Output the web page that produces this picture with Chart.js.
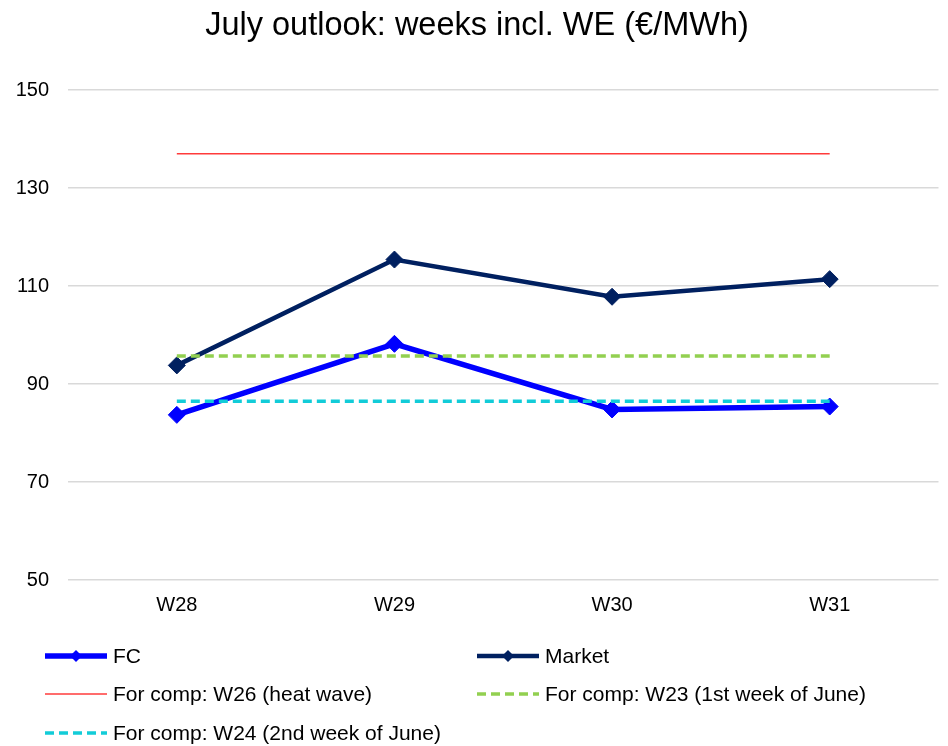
<!DOCTYPE html>
<html>
<head>
<meta charset="utf-8">
<script src="https://cdn.jsdelivr.net/npm/chart.js@4/dist/chart.umd.min.js"></script>
<style>
  html, body { margin: 0; padding: 0; background: #fff; }
  #wrap { width: 948px; height: 746px; position: relative; }
</style>
</head>
<body>
<div id="wrap"><canvas id="c" width="948" height="746"></canvas></div>
<script>
const titleText = 'July outlook: weeks incl. WE (€/MWh)';
const categories = ['W28', 'W29', 'W30', 'W31'];
const fcValues = [83.7, 98.2, 84.8, 85.4];
const marketValues = [93.8, 115.4, 107.8, 111.4];
const w26Values = [137, 137, 137, 137];
const w23Values = [95.7, 95.7, 95.7, 95.7];
const w24Values = [86.5, 86.5, 86.5, 86.5];
const seriesNames = ['FC', 'Market', 'For comp: W26 (heat wave)', 'For comp: W23 (1st week of June)', 'For comp: W24 (2nd week of June)'];
const yMin = 50, yMax = 150, yStep = 20;

const FONT = "'Liberation Sans', Arial, sans-serif";

const datasets = [
  { label: seriesNames[0], data: fcValues, borderColor: '#0000FF', backgroundColor: '#0000FF', borderWidth: 5.5,
    pointStyle: 'rectRot', pointRadius: 8.5, pointBorderWidth: 1, pointBackgroundColor: '#0000FF', pointBorderColor: '#0000FF', order: 5, tension: 0 },
  { label: seriesNames[1], data: marketValues, borderColor: '#002060', backgroundColor: '#002060', borderWidth: 4.5,
    pointStyle: 'rectRot', pointRadius: 8.5, pointBorderWidth: 1, pointBackgroundColor: '#002060', pointBorderColor: '#002060', order: 4, tension: 0 },
  { label: seriesNames[2], data: w26Values, borderColor: '#FF3B3B', backgroundColor: '#FF3B3B', borderWidth: 1.5,
    pointRadius: 0, order: 3 },
  { label: seriesNames[3], data: w23Values, borderColor: '#92D050', backgroundColor: '#92D050', borderWidth: 3.5,
    borderDash: [9, 5], pointRadius: 0, order: 2 },
  { label: seriesNames[4], data: w24Values, borderColor: '#12CCD8', backgroundColor: '#12CCD8', borderWidth: 3.5,
    borderDash: [9, 5], pointRadius: 0, order: 1 }
];

// legend layout: [column x of line start, row y]
const legendSlots = [[45, 656], [477, 656], [45, 694], [477, 694], [45, 733]];

const customLegend = {
  id: 'customLegend',
  afterDraw(chart) {
    const ctx = chart.ctx;
    chart.data.datasets.forEach((ds, i) => {
      const [x0, y] = legendSlots[i];
      const x1 = x0 + 62;
      ctx.save();
      ctx.strokeStyle = ds.borderColor;
      ctx.lineWidth = ds.borderWidth;
      ctx.setLineDash(ds.borderDash || []);
      ctx.lineCap = 'butt';
      ctx.beginPath();
      ctx.moveTo(x0, y);
      ctx.lineTo(x1, y);
      ctx.stroke();
      if (ds.pointRadius) {
        const r = 6, cx = (x0 + x1) / 2;
        ctx.setLineDash([]);
        ctx.fillStyle = ds.pointBackgroundColor;
        ctx.beginPath();
        ctx.moveTo(cx, y - r);
        ctx.lineTo(cx + r, y);
        ctx.lineTo(cx, y + r);
        ctx.lineTo(cx - r, y);
        ctx.closePath();
        ctx.fill();
      }
      ctx.fillStyle = '#000';
      ctx.font = '21px ' + FONT;
      ctx.textBaseline = 'middle';
      ctx.textAlign = 'left';
      ctx.fillText(ds.label, x1 + 6, y + 1);
      ctx.restore();
    });
  }
};

new Chart(document.getElementById('c'), {
  type: 'line',
  data: { labels: categories, datasets },
  plugins: [customLegend],
  options: {
    responsive: false,
    animation: false,
    events: [],
    layout: { padding: { top: 0, left: 14, right: 8, bottom: 116 } },
    plugins: {
      legend: { display: false },
      tooltip: { enabled: false },
      title: {
        display: true,
        text: titleText,
        color: '#000',
        font: { family: FONT, size: 32.5, weight: 'normal', lineHeight: 1.2 },
        padding: { top: 7, bottom: 44 }
      }
    },
    scales: {
      x: {
        offset: true,
        grid: { display: false, drawTicks: false },
        border: { display: false },
        ticks: { color: '#000', font: { family: FONT, size: 20 }, padding: 13, maxRotation: 0 },
        afterFit(scale) { scale.height = 50; }
      },
      y: {
        min: yMin, max: yMax,
        grid: { color: '#D9D9D9', lineWidth: 1.5, drawTicks: false },
        border: { display: false },
        ticks: { stepSize: yStep, color: '#000', font: { family: FONT, size: 20 }, padding: 19 },
        afterFit(scale) { scale.width = 54; }
      }
    }
  }
});
</script>
</body>
</html>
